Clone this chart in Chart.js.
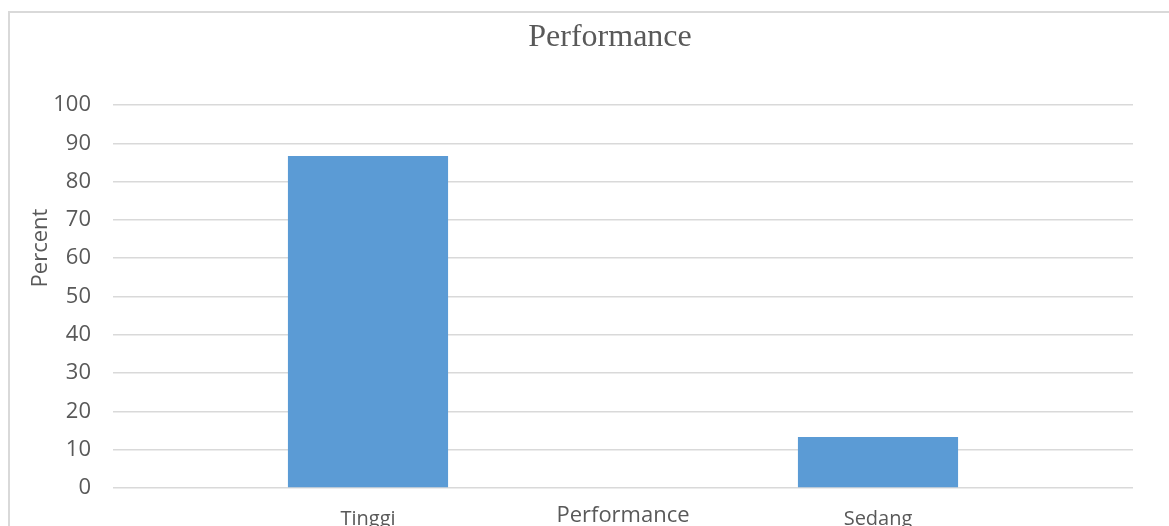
<!DOCTYPE html>
<html>
<head>
<meta charset="utf-8">
<title>Performance</title>
<script src="https://cdn.jsdelivr.net/npm/chart.js@4.4.1/dist/chart.umd.min.js"></script>
<style>
  html, body { margin: 0; padding: 0; background: #fff; overflow: hidden; }
  #wrap { position: relative; width: 1169px; height: 560px; }
</style>
</head>
<body>
<div id="wrap"><canvas id="perfChart" width="1169" height="560"></canvas></div>
<script>
// Data
const categories = ['Tinggi', 'Sedang'];
const percentValues = [86.7, 13.3];
const yTicks = [0, 10, 20, 30, 40, 50, 60, 70, 80, 90, 100];

const textColor = '#595959';
const gridColor = '#d9d9d9';
const barColor = '#5b9bd5';

// Outer frame, serif chart title and the (off-centre) y axis title
const framePlugin = {
    id: 'frame',
    beforeDraw(chart) {
        const ctx = chart.ctx;
        ctx.save();
        ctx.fillStyle = '#fff';
        ctx.fillRect(0, 0, chart.width, chart.height);
        ctx.strokeStyle = gridColor;
        ctx.lineWidth = 2;
        ctx.strokeRect(9, 12, 2000, 2000);
        ctx.restore();
    },
    afterDraw(chart) {
        const ctx = chart.ctx;
        ctx.save();
        ctx.font = '32px "Liberation Serif", "Times New Roman", serif';
        ctx.fillStyle = textColor;
        ctx.textAlign = 'center';
        ctx.textBaseline = 'alphabetic';
        ctx.fillText('Performance', 610, 46);

        ctx.translate(41, 248);
        ctx.rotate(-Math.PI / 2);
        ctx.font = '22px "Open Sans", sans-serif';
        ctx.textBaseline = 'middle';
        ctx.fillText('Percent', 0, 0);
        ctx.restore();
    }
};

new Chart(document.getElementById('perfChart').getContext('2d'), {
    type: 'bar',
    data: {
        labels: categories,
        datasets: [{
            label: 'Percent',
            data: percentValues,
            backgroundColor: barColor,
            borderWidth: 0,
            categoryPercentage: 1,
            barPercentage: 0.314
        }]
    },
    options: {
        responsive: false,
        animation: false,
        layout: { padding: { top: 105, right: 36, bottom: 0, left: 0 } },
        plugins: {
            legend: { display: false },
            tooltip: { enabled: false },
            title: { display: false }
        },
        scales: {
            x: {
                grid: { display: false },
                border: { display: false },
                ticks: {
                    color: textColor,
                    font: { family: '"Open Sans", sans-serif', size: 20 },
                    padding: 11
                },
                title: {
                    display: true,
                    text: 'Performance',
                    color: textColor,
                    font: { family: '"Open Sans", sans-serif', size: 22 },
                    padding: { top: 0, bottom: 31 }
                },
                afterFit(scale) { scale.height = 72; }
            },
            y: {
                min: 0,
                max: 100,
                afterBuildTicks(scale) { scale.ticks = yTicks.map(v => ({ value: v })); },
                grid: { color: gridColor, lineWidth: 1.5, drawTicks: false },
                border: { display: false },
                ticks: {
                    color: textColor,
                    font: { family: '"Open Sans", sans-serif', size: 22 },
                    padding: 22
                },
                afterFit(scale) { scale.width = 113; }
            }
        }
    },
    plugins: [framePlugin]
});
</script>
</body>
</html>
